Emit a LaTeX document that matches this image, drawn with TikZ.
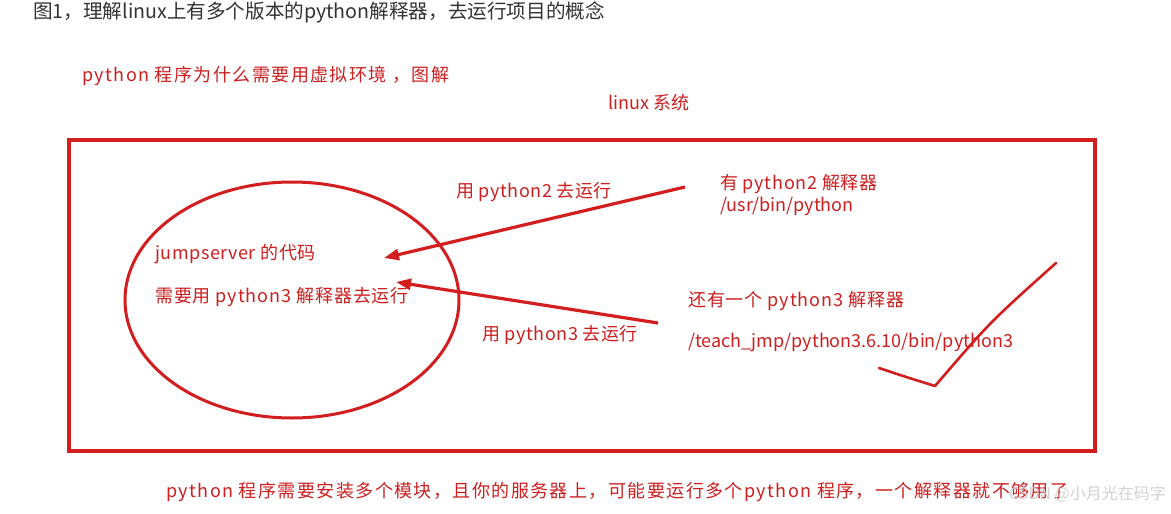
\documentclass[tikz,border=0pt]{standalone}
\usepackage{fontspec}
\setmainfont{Noto Sans CJK SC}
\usetikzlibrary{arrows.meta}
\definecolor{pen}{HTML}{D21E1E}
\definecolor{ink}{HTML}{CC1F1F}
\definecolor{graytext}{HTML}{333333}
\begin{document}
\begin{tikzpicture}[x=1pt,y=-1pt,
      lbl/.style={anchor=west,inner sep=0pt,text=ink,
        font=\fontsize{18}{20}\selectfont\addfontfeatures{LetterSpace=#1}},
      lbl/.default=0,
      run/.style={draw=pen,line width=3.2pt,-{Triangle[length=15pt,width=11pt]}}]
      \useasboundingbox[fill=white] (0,0) rectangle (1171,514);
      \tikzstyle{frame}=[draw=pen,line width=3.6pt]
      \node[anchor=west,inner sep=0pt,text=graytext,font=\fontsize{19.6}{21}\selectfont]
      (title) at (33,12) {图1，理解linux上有多个版本的python解释器，去运行项目的概念}; %top
      \node[lbl=8] (why) at (82,76) {python 程序为什么需要用虚拟环境 ，图解};
      \node[lbl] (sys) at (608,103) {linux 系统};
      \draw[frame] (69,140) rectangle (1095,451); %linux box
      \draw[draw=pen,line width=3pt] (292,300) ellipse [x radius=167,y radius=118];
      \node[lbl=3] (code) at (155,254) {jumpserver 的代码};
      \node[lbl=5] (need) at (155,297) {需要用 python3 解释器去运行};
      \node[lbl=4] (py2) at (720,184) {有 python2 解释器};
      \node[lbl] (py2path) at (720,206) {/usr/bin/python};
      \node[lbl=5] (py3) at (688,301) {还有一个 python3 解释器};
      \node[lbl] (py3path) at (688,343) {/teach\_jmp/python3.6.10/bin/python3};
      \node[lbl=3] (run2) at (456,192) {用 python2 去运行};
      \node[lbl=3] (run3) at (482,335) {用 python3 去运行};
      \coordinate (s2) at (685,187); \coordinate (e2) at (384,258);
      \coordinate (s3) at (658,323); \coordinate (e3) at (396,282);
      \draw[run] (s2) -- (e2);
      \draw[run] (s3) -- (e3);
      \draw[draw=pen,line width=2.6pt,line cap=round,line join=round]
      (879,368) .. controls (906,377) .. (935,386) .. controls (990,322) .. (1056,263); %tick
      \node[lbl=8] (note) at (166,492) {python 程序需要安装多个模块，且你的服务器上，可能要运行多个python 程序，一个解释器就不够用了};
      \node[anchor=east,inner sep=0pt,text=gray!35,font=\fontsize{16}{18}\selectfont]
      (mark) at (1166,494) {CSDN @小月光在码字};
    \end{tikzpicture}
\end{document}
